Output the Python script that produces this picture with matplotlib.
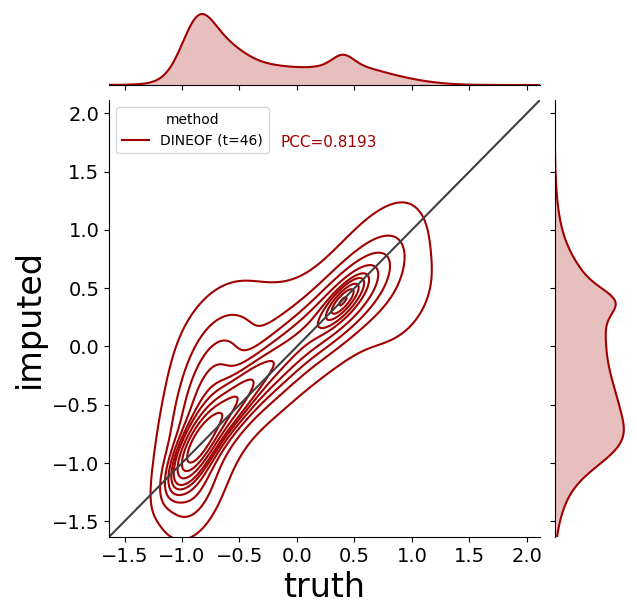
import numpy as np
import matplotlib
matplotlib.use("Agg")
import matplotlib.pyplot as plt
from matplotlib.lines import Line2D

# ---- data: density components (truth x, imputed y) ----
comp_mx = [-0.86, -0.78, -0.92, -0.60, -0.25, -0.65, 0.40, 0.42, 0.85, -0.15, 0.60, -0.15]
comp_my = [-0.85, -0.50, -1.20, -0.55, -0.20, 0.05, 0.39, 0.38, 0.45, 0.22, 0.70, -0.20]
comp_sx = [0.13, 0.20, 0.15, 0.18, 0.32, 0.28, 0.09, 0.25, 0.28, 0.40, 0.30, 0.60]
comp_sy = [0.20, 0.40, 0.25, 0.22, 0.32, 0.35, 0.10, 0.27, 0.35, 0.30, 0.40, 0.60]
comp_rho = [0.75, 0.45, 0.30, 0.85, 0.85, 0.30, 0.80, 0.75, 0.30, 0.40, 0.70, 0.85]
comp_w = [0.18, 0.20, 0.05, 0.10, 0.17, 0.04, 0.04, 0.13, 0.05, 0.05, 0.05, 0.08]

method_label = "DINEOF (t=46)"
pcc_text = "PCC=0.8193"
lims = (-1.635, 2.115)
ticks = [-1.5, -1.0, -0.5, 0.0, 0.5, 1.0, 1.5, 2.0]

color = "#a00000"

# ---- density on a grid ----
g = np.linspace(-2.6, 3.0, 300)
X, Y = np.meshgrid(g, g)
Z = np.zeros_like(X)
for mx, my, sx, sy, r, w in zip(comp_mx, comp_my, comp_sx, comp_sy, comp_rho, comp_w):
    dx = (X - mx) / sx
    dy = (Y - my) / sy
    q = (dx**2 - 2 * r * dx * dy + dy**2) / (1 - r**2)
    Z += w * np.exp(-0.5 * q) / (2 * np.pi * sx * sy * np.sqrt(1 - r**2))

def quantile_to_level(data, iso):
    values = np.ravel(data)
    sv = np.sort(values)[::-1]
    nv = np.cumsum(sv) / values.sum()
    idx = np.searchsorted(nv, 1 - np.asarray(iso))
    return np.take(sv, idx, mode="clip")

levels = quantile_to_level(Z, np.linspace(0.05, 1, 10))
levels = np.unique(levels)

def marg(v, m, s, w):
    out = np.zeros_like(v)
    for mm, ss, ww in zip(m, s, w):
        out += ww * np.exp(-0.5 * ((v - mm) / ss) ** 2) / (ss * np.sqrt(2 * np.pi))
    return out

xs = np.linspace(-2.6, 3.0, 600)
px = marg(xs, comp_mx, comp_sx, comp_w)
py = marg(xs, comp_my, comp_sy, comp_w)

# ---- figure ----
W, H = 637, 615
fig = plt.figure(figsize=(W / 100, H / 100), dpi=100)
L, R, T, B = 109, 540, 100, 537
ax = fig.add_axes([L / W, (H - B) / H, (R - L) / W, (B - T) / H])
axx = fig.add_axes([L / W, (H - 85) / H, (R - L) / W, 85 / H], sharex=ax)
axy = fig.add_axes([554.7 / W, (H - B) / H, (W - 554.7) / W, (B - T) / H], sharey=ax)

ax.contour(X, Y, Z, levels=levels, colors=[color], linewidths=1.5)
ax.plot([0, 1], [0, 1], transform=ax.transAxes, color="#404040", lw=1.5)
ax.set_xlim(lims)
ax.set_ylim(lims)
ax.set_xticks(ticks)
ax.set_yticks(ticks)
ax.tick_params(labelsize=14)
ax.set_xlabel("truth", fontsize=24)
ax.set_ylabel("imputed", fontsize=24)
for s in ["top", "right"]:
    ax.spines[s].set_visible(False)

leg = ax.legend([Line2D([], [], color=color, lw=1.5)], [method_label],
                title="method", loc="upper left", fontsize=10, title_fontsize=10)
ax.text(0.399, 0.902, pcc_text, transform=ax.transAxes, color=color,
        fontsize=11, va="center", ha="left")

# top marginal
axx.fill_between(xs, 0, px, color=color, alpha=0.25, lw=0)
axx.plot(xs, px, color=color, lw=1.5)
axx.set_ylim(0, px.max() / 0.835)
for s in ["top", "right", "left"]:
    axx.spines[s].set_visible(False)
axx.tick_params(axis="x", labelbottom=False)
axx.tick_params(axis="y", left=False, labelleft=False)

# right marginal
axy.fill_betweenx(xs, 0, py, color=color, alpha=0.25, lw=0)
axy.plot(py, xs, color=color, lw=1.5)
axy.set_xlim(0, py.max() / 0.84)
for s in ["top", "right", "bottom"]:
    axy.spines[s].set_visible(False)
axy.tick_params(axis="y", labelleft=False)
axy.tick_params(axis="x", bottom=False, labelbottom=False)

ax.set_xlim(lims)
ax.set_ylim(lims)
fig.savefig("out.png", dpi=100)
